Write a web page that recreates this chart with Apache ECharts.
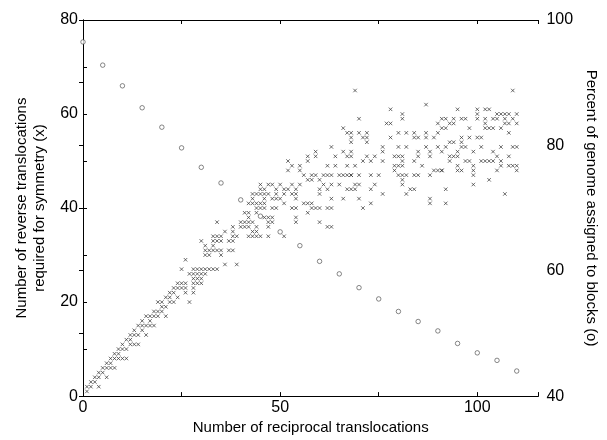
<!DOCTYPE html>
<html>
<head>
<meta charset="utf-8">
<script src="https://cdn.jsdelivr.net/npm/echarts@6/dist/echarts.min.js"></script>
<style>
  html, body { margin: 0; padding: 0; background: #fff; }
  #chart { width: 607px; height: 440px; }
</style>
</head>
<body>
<div id="chart"></div>
<script>
// ticks (labelled ones; axes carry extra unlabelled ticks in between)
var xTicks = [0, 50, 100];
var leftTicks = [0, 20, 40, 60, 80];
var rightTicks = [40, 60, 80, 100];

// percent of genome assigned to blocks (o), right axis
var circleX = [0, 5, 10, 15, 20, 25, 30, 35, 40, 45, 50, 55, 60, 65, 70, 75, 80, 85, 90, 95, 100, 105, 110];
var circlePct = [96.5, 92.8, 89.5, 86.0, 82.9, 79.6, 76.5, 74.0, 71.3, 68.7, 66.2, 64.0, 61.5, 59.5, 57.3, 55.5, 53.5, 51.9, 50.4, 48.4, 46.9, 45.7, 44.0];

// reverse translocations required for symmetry (x), left axis, [reciprocal, reverse]
var crossLow = [
  [1,1],[1,2],[2,2],[2,3],[3,3],[3,4],[4,2],[4,4],[4,5],[5,5],[5,6],[6,4],[6,6],[6,7],[7,6],[7,7],[7,8],
  [8,6],[8,8],[8,9],[9,8],[9,9],[9,10],[10,8],[10,10],[10,11],[11,8],[11,10],[11,12],[12,11],[12,12],[12,13],
  [13,11],[13,13],[13,14],[14,11],[14,13],[14,15],[15,14],[15,15],[15,16],[16,13],[16,15],[16,17],[17,15],
  [17,16],[17,17],[18,15],[18,17],[18,18],[19,17],[19,18],[19,20],[20,18],[20,19],[20,20],[21,17],[21,19],
  [21,21],[22,20],[22,21],[22,22],[23,20],[23,22],[23,23],[24,21],[24,23],[24,24]
];
var crossMid = [
  [25,27],[25,24],[25,23],[26,29],[26,24],[26,23],[26,22],[27,26],[27,20],[28,27],[28,26],[28,25],[28,24],
  [28,23],[28,22],[29,27],[29,26],[29,25],[29,24],[30,27],[30,26],[30,25],[30,24],[30,33],[31,27],[31,26],
  [31,32],[31,31],[31,30],[32,27],[32,31],[32,30],[33,27],[33,34],[33,33],[33,32],[33,31],[34,27],[34,37],
  [34,34],[34,33],[34,31],[35,34],[35,33],[35,31],[35,30],[36,35],[36,28],[37,33],[37,31],[38,36],[38,35],
  [38,34],[38,33],[38,31],[39,34],[39,28],[40,37],[40,36],[41,39],[41,37],[41,36],[42,38],[42,37],[42,36],
  [42,34],[43,37],[43,34],[44,41],[44,40],[44,39],[44,36],[45,44],[45,43],[45,41],[45,40],[45,34],[46,41],[46,40],
  [66,57],[68,56],[68,55],[63,53],[59,52],[66,52],[68,51],[64,51],[52,50],[53,49],[57,50],[57,51],[59,51],
  [62,49],[55,49],[55,48],[52,48],[64,49],[65,47],[68,47],[56,47],[58,47],[59,47],[61,47],[62,47],[63,47],
  [66,47],[67,47],[57,46],[58,46],[60,46],[45,45],[47,45],[48,45],[50,45],[53,45],[55,45],[61,45],[63,45],
  [65,45],[46,44],[49,44],[51,44],[52,44],[54,44],[60,44],[62,44],[67,44],[43,43],[44,43],[46,43],[47,43],
  [49,43],[51,43],[53,43],[54,43],[60,43],[43,42],[46,42],[48,42],[49,42],[50,42],[54,42],[63,42],[66,42],
  [51,41],[42,41],[43,41],[56,41],[57,41],[58,41],[48,40],[49,40],[53,40],[54,40],[59,40],[60,40],[63,40],
  [57,39],[42,39],[46,38],[47,38],[48,38],[54,38],[47,37],[48,37],[54,37],[60,37],[62,36],[63,36],[47,36],
  [43,35],[44,35],[44,34],[47,34],[51,34],[58,40],[62,40]
];
var crossHigh = [
  [69,65],[87,62],[78,61],[81,60],[81,59],[70,59],[77,58],[78,58],[92,59],[90,58],[67,56],[70,56],[72,56],
  [80,56],[82,56],[84,56],[84,55],[87,56],[89,55],[90,56],[68,54],[71,55],[72,55],[78,55],[85,55],[87,55],
  [72,54],[76,53],[76,52],[80,53],[82,53],[87,53],[90,53],[91,52],[68,52],[88,52],[67,51],[72,51],[74,51],
  [79,51],[80,51],[81,51],[81,50],[85,51],[85,52],[88,51],[71,50],[73,50],[76,50],[84,50],[86,49],[79,49],
  [80,49],[81,49],[67,49],[69,49],[79,48],[68,47],[70,47],[73,47],[75,47],[80,47],[81,47],[82,47],[84,47],
  [85,47],[88,47],[89,48],[90,48],[91,48],[81,46],[81,45],[69,45],[70,45],[74,45],[68,44],[69,44],[73,44],
  [76,43],[83,44],[84,44],[82,43],[70,42],[73,41],[71,40],[88,42],[88,41],[92,41],[92,44],
  [109,65],[95,61],[100,61],[102,61],[103,61],[105,60],[106,60],[110,60],[100,60],[107,60],[108,60],[91,59],
  [94,59],[94,58],[96,59],[97,59],[100,59],[102,59],[104,59],[105,59],[107,59],[107,58],[109,59],[91,57],
  [92,57],[93,58],[98,57],[102,58],[102,57],[103,57],[104,57],[106,57],[108,58],[110,58],[108,56],[96,55],
  [98,55],[100,55],[101,55],[93,54],[94,54],[96,54],[92,53],[95,52],[95,51],[96,53],[97,53],[101,53],
  [106,53],[109,53],[110,53],[99,52],[104,52],[93,51],[94,51],[105,51],[108,51],[93,50],[97,50],[98,50],
  [101,50],[102,50],[103,50],[104,50],[106,50],[106,49],[95,49],[99,49],[108,49],[109,49],[110,49],[91,48],
  [95,48],[96,48],[99,48],[99,47],[105,48],[110,48],[103,46],[99,45],[107,43]
];

var font = 'Liberation Sans';
var crossPath = 'path://M0,0L10,10M10,0L0,10';

var circleData = [];
for (var i = 0; i < circleX.length; i++) {
  circleData.push([circleX[i], circlePct[i]]);
}
var crossData = crossLow.concat(crossMid, crossHigh);

function tickFmt(list) {
  return function (v) {
    return list.indexOf(v) >= 0 ? String(v) : '';
  };
}

var axisLine = { show: true, lineStyle: { color: '#000', width: 1 } };
var tickIn = { show: true, inside: true, length: 4, lineStyle: { color: '#000' } };

var chart = echarts.init(document.getElementById('chart'), null, { renderer: 'canvas' });
chart.setOption({
  animation: false,
  backgroundColor: '#fff',
  grid: { left: 83, right: 64, top: 20, bottom: 37 },
  xAxis: [{
    type: 'value', min: 0, max: 115.5, interval: 25,
    axisLine: axisLine, axisTick: tickIn,
    splitLine: { show: false },
    axisLabel: { fontFamily: font, fontSize: 16, color: '#000', margin: 3, formatter: tickFmt(xTicks) },
    name: 'Number of reciprocal translocations',
    nameLocation: 'middle', nameGap: 22,
    nameTextStyle: { fontFamily: font, fontSize: 15, color: '#000' }
  }, {
    type: 'value', position: 'top', min: 0, max: 115.5, interval: 25,
    axisLine: axisLine, axisTick: tickIn,
    splitLine: { show: false }, axisLabel: { show: false }
  }],
  yAxis: [{
    type: 'value', min: 0, max: 80, interval: 10,
    axisLine: axisLine, axisTick: tickIn,
    splitLine: { show: false },
    axisLabel: { fontFamily: font, fontSize: 16, color: '#000', margin: 5, formatter: tickFmt(leftTicks) },
    name: 'Number of reverse translocations\nrequired for symmetry (x)',
    nameLocation: 'middle', nameGap: 29, nameRotate: 90,
    nameTextStyle: { fontFamily: font, fontSize: 15, color: '#000', lineHeight: 18, align: 'center' }
  }, {
    type: 'value', position: 'right', min: 40, max: 100, interval: 10,
    axisLine: axisLine, axisTick: tickIn,
    splitLine: { show: false },
    axisLabel: { fontFamily: font, fontSize: 16, color: '#000', margin: 8, formatter: tickFmt(rightTicks) },
    name: 'Percent of genome assigned to blocks (o)',
    nameLocation: 'middle', nameGap: 38, nameRotate: -90,
    nameTextStyle: { fontFamily: font, fontSize: 15, color: '#000' }
  }],
  series: [{
    type: 'scatter', xAxisIndex: 0, yAxisIndex: 0,
    data: crossData,
    symbol: crossPath, symbolSize: 3.5,
    itemStyle: { color: 'none', borderColor: '#333', borderWidth: 0.9 }
  }, {
    type: 'scatter', xAxisIndex: 0, yAxisIndex: 1,
    data: circleData,
    symbol: 'circle', symbolSize: 4.5,
    itemStyle: { color: '#fff', borderColor: '#444', borderWidth: 0.8 }
  }]
});
</script>
</body>
</html>
